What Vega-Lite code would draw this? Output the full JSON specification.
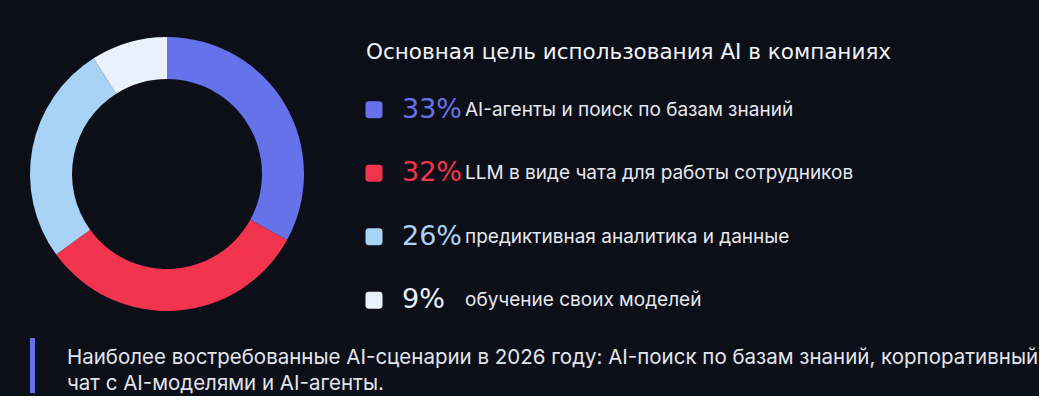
{
  "$schema": "https://vega.github.io/schema/vega-lite/v6.json",
  "background": "#0d0f18",
  "padding": {"left": 30, "top": 37, "right": 0, "bottom": 0},
  "config": {"view": {"stroke": null}},
  "datasets": {
    "shares": [
      {"ord": 1, "label": "AI-агенты и поиск по базам знаний", "value": 33, "pct": "33%"},
      {"ord": 2, "label": "LLM в виде чата для работы сотрудников", "value": 32, "pct": "32%"},
      {"ord": 3, "label": "предиктивная аналитика и данные", "value": 26, "pct": "26%"},
      {"ord": 4, "label": "обучение своих моделей", "value": 9, "pct": "9%"}
    ],
    "heading": [
      {"text": "Основная цель использования AI в компаниях"}
    ],
    "note": [
      {"text": "Наиболее востребованные AI-сценарии в 2026 году: AI-поиск по базам знаний, корпоративный\nчат с AI-моделями и AI-агенты."}
    ]
  },
  "vconcat": [
    {
      "hconcat": [
        {
          "width": 274,
          "height": 274,
          "data": {"name": "shares"},
          "mark": {"type": "arc", "innerRadius": 95, "outerRadius": 137},
          "encoding": {
            "theta": {"field": "value", "type": "quantitative", "stack": true},
            "order": {"field": "ord", "type": "quantitative"},
            "color": {
              "field": "label",
              "type": "nominal",
              "scale": {
                "domain": ["AI-агенты и поиск по базам знаний", "LLM в виде чата для работы сотрудников", "предиктивная аналитика и данные", "обучение своих моделей"],
                "range": ["#6672ea", "#f2344f", "#a9d3f5", "#e9f1fb"]
              },
              "legend": null
            }
          }
        },
        {
          "vconcat": [
            {
              "width": 640,
              "height": 30,
              "data": {"name": "heading"},
              "mark": {
                "type": "text",
                "x": 1,
                "align": "left",
                "baseline": "middle",
                "dy": 1,
                "font": "DejaVu Sans",
                "fontSize": 21.5,
                "color": "#f2f4f8"
              },
              "encoding": {"text": {"field": "text"}}
            },
            {
              "width": 640,
              "height": 254,
              "data": {"name": "shares"},
              "encoding": {
                "y": {
                  "field": "label",
                  "type": "nominal",
                  "sort": {"field": "ord"},
                  "axis": null,
                  "scale": {"type": "point", "padding": 0.5}
                }
              },
              "layer": [
                {
                  "mark": {
                    "type": "point",
                    "shape": "M-0.6,-1H0.6Q1,-1,1,-0.6V0.6Q1,1,0.6,1H-0.6Q-1,1,-1,0.6V-0.6Q-1,-1,-0.6,-1Z",
                    "size": 289,
                    "filled": true,
                    "opacity": 1,
                    "x": 9
                  },
                  "encoding": {
                    "color": {
                      "field": "label",
                      "type": "nominal",
                      "scale": {
                        "domain": ["AI-агенты и поиск по базам знаний", "LLM в виде чата для работы сотрудников", "предиктивная аналитика и данные", "обучение своих моделей"],
                        "range": ["#6672ea", "#f2344f", "#a9d3f5", "#e9f1fb"]
                      },
                      "legend": null
                    }
                  }
                },
                {
                  "mark": {
                    "type": "text",
                    "x": 37,
                    "align": "left",
                    "baseline": "middle",
                    "font": "DejaVu Sans",
                    "fontSize": 27
                  },
                  "encoding": {
                    "text": {"field": "pct"},
                    "color": {"field": "label", "type": "nominal", "legend": null}
                  }
                },
                {
                  "mark": {
                    "type": "text",
                    "x": 100,
                    "align": "left",
                    "baseline": "middle",
                    "font": "Inter",
                    "fontSize": 19,
                    "color": "#e6e8ef"
                  },
                  "encoding": {
                    "text": {"field": "label"}
                  }
                }
              ]
            }
          ],
          "spacing": 11
        }
      ],
      "spacing": 61
    },
    {
      "width": 1000,
      "height": 55,
      "data": {"name": "note"},
      "layer": [
        {
          "mark": {"type": "rule", "color": "#6672ea", "strokeWidth": 5},
          "encoding": {"x": {"value": 2.5}, "y": {"value": 0}, "y2": {"value": 55}}
        },
        {
          "mark": {
            "type": "text",
            "x": 37,
            "align": "left",
            "baseline": "middle",
            "dy": -8,
            "lineBreak": "\n",
            "lineHeight": 26,
            "font": "Inter",
            "fontSize": 20.5,
            "color": "#e2e5ee"
          },
          "encoding": {"text": {"field": "text"}}
        }
      ]
    }
  ],
  "spacing": 3
}
